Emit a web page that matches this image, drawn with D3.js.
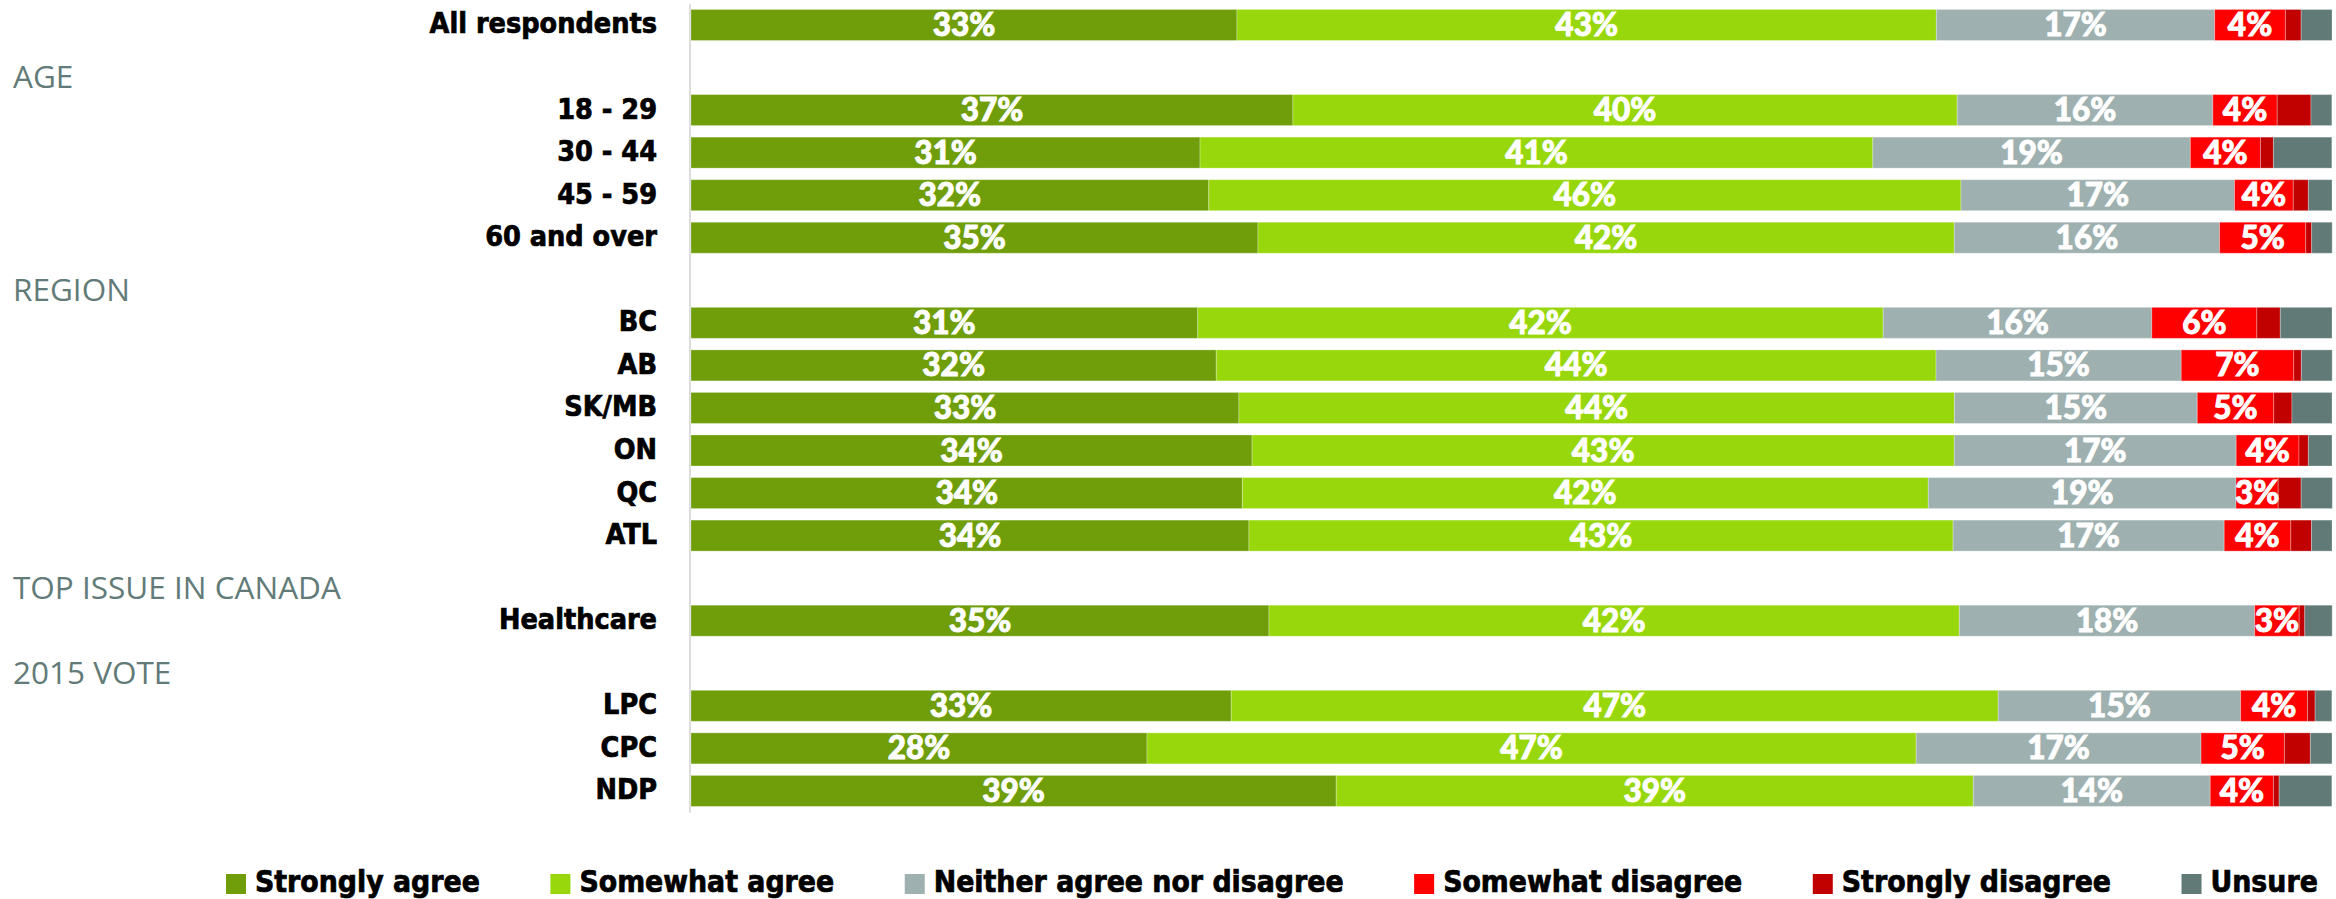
<!DOCTYPE html>
<html>
<head>
<meta charset="utf-8">
<script src="https://cdn.jsdelivr.net/npm/d3@7"></script>
<style>
  html, body { margin: 0; padding: 0; background: #ffffff; }
  svg { display: block; }
  .cat { font-family: 'DejaVu Sans Condensed', 'DejaVu Sans', sans-serif; font-stretch: condensed; font-weight: bold; fill: #000; stroke: #000; stroke-width: 0.7px; }
  .hdr { font-family: 'Open Sans', 'Noto Sans', sans-serif; font-weight: 400; fill: #627b78; }
  .pct { font-family: 'Lato', 'Open Sans', sans-serif; font-weight: 900; fill: #ffffff; stroke: #ffffff; stroke-width: 0.9px; }
  .leg { font-family: 'DejaVu Sans Condensed', 'DejaVu Sans', sans-serif; font-stretch: condensed; font-weight: bold; fill: #000; stroke: #000; stroke-width: 0.7px; }
</style>
</head>
<body>
<svg id="chart" width="2336" height="899"></svg>
<script>
// ---------------- DATA ----------------
const rows = ["All respondents", "AGE", "18 - 29", "30 - 44", "45 - 59", "60 and over",
  "REGION", "BC", "AB", "SK/MB", "ON", "QC", "ATL",
  "TOP ISSUE IN CANADA", "Healthcare", "2015 VOTE", "LPC", "CPC", "NDP"];
const headerRows = ["AGE", "REGION", "TOP ISSUE IN CANADA", "2015 VOTE"];

const seriesNames = ["Strongly agree", "Somewhat agree", "Neither agree nor disagree",
  "Somewhat disagree", "Strongly disagree", "Unsure"];
const seriesColors = ["#6f9e0a", "#97d70b", "#9eb0af", "#ff0000", "#c10000", "#617a77"];
const labelledSeries = ["Strongly agree", "Somewhat agree", "Neither agree nor disagree", "Somewhat disagree"];

const stronglyAgree    = [33.27, null, 36.68, 31.02, 31.55, 34.55, null, 30.88, 32.01, 33.39, 34.19, 33.60, 34.00, null, 35.22, null, 32.92, 27.79, 39.32];
const somewhatAgree    = [42.62, null, 40.48, 41.00, 45.84, 42.43, null, 41.77, 43.86, 43.60, 42.79, 41.80, 42.91, null, 42.07, null, 46.74, 46.87, 38.82];
const neither          = [16.96, null, 15.58, 19.35, 16.67, 16.17, null, 16.37, 14.94, 14.80, 17.18, 18.75, 16.52, null, 18.00, null, 14.77, 17.36, 14.44];
const somewhatDisagree = [4.31, null, 3.92, 4.27, 3.58, 5.25, null, 6.40, 6.86, 4.66, 3.83, 2.57, 4.06, null, 2.71, null, 4.08, 5.08, 3.85];
const stronglyDisagree = [0.96, null, 2.06, 0.79, 0.92, 0.36, null, 1.43, 0.46, 1.11, 0.57, 1.40, 1.26, null, 0.34, null, 0.46, 1.58, 0.35];
const unsure           = [1.88, null, 1.27, 3.56, 1.44, 1.25, null, 3.15, 1.88, 2.44, 1.44, 1.90, 1.25, null, 1.67, null, 1.02, 1.32, 3.21];

// ---------------- BUILD TABLE ----------------
const seriesValues = [stronglyAgree, somewhatAgree, neither, somewhatDisagree, stronglyDisagree, unsure];
const table = rows.map((r, i) => {
  const o = { row: r };
  seriesNames.forEach((s, k) => { o[s] = seriesValues[k][i]; });
  return o;
}).filter(d => !headerRows.includes(d.row));

// ---------------- LAYOUT ----------------
const svg = d3.select("#chart");
const x = d3.scaleLinear().domain([0, 100]).range([691, 2332]);
const y = d3.scaleBand().domain(rows).range([3.7, 812.2]).paddingInner(0.2715).paddingOuter(0.13575);
const color = d3.scaleOrdinal().domain(seriesNames).range(seriesColors);

const stack = d3.stack().keys(seriesNames);
const stacked = stack(table);

// axis line
const axis = d3.axisLeft(y).tickSize(0).tickSizeOuter(0).tickFormat("");
const ag = svg.append("g").attr("transform", "translate(689.5,0)").call(axis);
ag.select(".domain").attr("stroke", "#dcdcdc").attr("stroke-width", 2);

// bars
const layers = svg.append("g").selectAll("g.layer")
  .data(stacked).join("g").attr("class", "layer")
  .attr("fill", d => color(d.key));

layers.selectAll("rect")
  .data(d => d.map(v => ({ v, key: d.key })))
  .join("rect")
  .attr("x", d => x(d.v[0]))
  .attr("y", d => y(d.v.data.row))
  .attr("width", d => x(d.v[1]) - x(d.v[0]))
  .attr("height", y.bandwidth())
  .attr("stroke", "rgba(255,255,255,0.28)")
  .attr("stroke-width", 1);

// percentage labels
const labelLayers = stacked.filter(s => labelledSeries.includes(s.key));
svg.append("g").selectAll("g")
  .data(labelLayers).join("g")
  .selectAll("text")
  .data(d => d)
  .join("text")
  .attr("class", "pct")
  .attr("x", d => (x(d[0]) + x(d[1])) / 2)
  .attr("y", d => y(d.data.row) + y.bandwidth() / 2 + 11)
  .attr("text-anchor", "middle")
  .attr("font-size", "31.5px")
  .text(d => Math.round(d[1] - d[0]) + "%");

// category labels
svg.append("g").selectAll("text")
  .data(rows.filter(r => !headerRows.includes(r)))
  .join("text")
  .attr("class", "cat")
  .attr("x", 657)
  .attr("y", d => y(d) + y.bandwidth() / 2 + 8.5)
  .attr("text-anchor", "end")
  .attr("font-size", "28.5px")
  .text(d => d);

// section headers
svg.append("g").selectAll("text")
  .data(headerRows)
  .join("text")
  .attr("class", "hdr")
  .attr("x", 13)
  .attr("y", d => y(d) + y.bandwidth() / 2 + 20.5)
  .attr("font-size", "31.5px")
  .text(d => d);

// legend
const legend = svg.append("g").attr("class", "legend");
let lx = 226;
seriesNames.forEach((s, i) => {
  const g = legend.append("g");
  g.append("rect").attr("x", lx).attr("y", 874).attr("width", 20).attr("height", 20).attr("fill", color(s));
  const t = g.append("text").attr("class", "leg").attr("x", lx + 29).attr("y", 892)
    .attr("font-size", "29.8px").text(s);
  const w = t.node().getComputedTextLength();
  lx = lx + 29 + w + 70.5;
});
</script>
</body>
</html>
